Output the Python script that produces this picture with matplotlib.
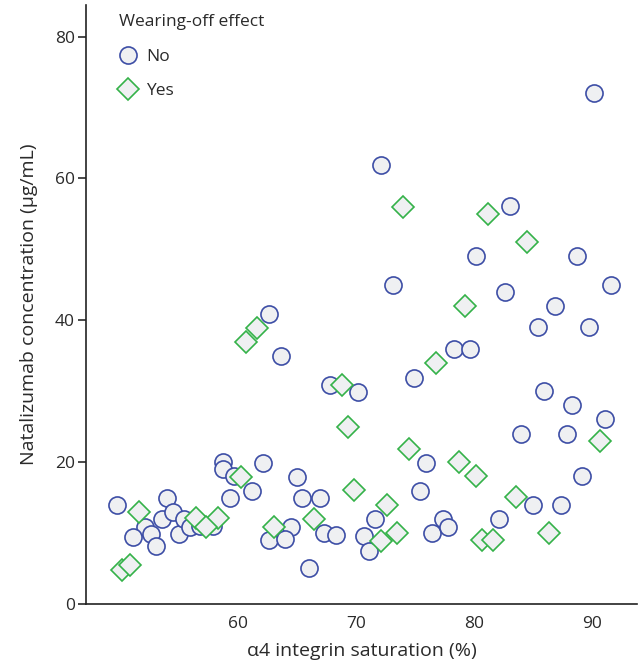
"""
	Natalizumab concentration vs alpha4 integrin saturation, grouped by wearing-off effect.
"""

import numpy as np
import matplotlib
matplotlib.use("Agg")
import matplotlib.pyplot as plt

plt.rcParams['font.family'] = ['Open Sans', 'DejaVu Sans']

# wearing-off effect: No
no_sat = [49.7, 54.0, 58.75, 58.75, 59.6, 62.1, 61.2, 59.3, 52.1, 52.6,
		  51.1, 53.05, 53.5, 54.5, 55.0, 55.4, 55.9, 56.8, 57.9, 62.6,
		  62.6, 63.6, 67.8, 70.2, 74.9, 78.3, 79.7, 65.0, 65.4, 66.9,
		  75.9, 75.4, 64.5, 64.0, 67.3, 68.3, 66.0, 70.7, 71.6, 71.1,
		  76.4, 77.4, 77.8, 72.1, 73.1,
		  90.2, 83.05, 80.2, 88.75, 91.6, 82.6, 86.9, 85.4, 89.75, 85.9,
		  88.3, 91.15, 84.0, 87.85, 89.2, 85.0, 87.35, 82.1]
no_conc = [13.9, 14.9, 20.0, 19.0, 18.0, 19.9, 15.9, 14.9, 10.9, 9.8,
		   9.4, 8.1, 11.9, 12.9, 9.9, 11.9, 10.9, 11.0, 11.0, 9.0,
		   40.9, 34.9, 30.8, 29.9, 31.9, 35.9, 35.9, 17.9, 14.9, 14.9,
		   19.9, 15.9, 10.9, 9.1, 10.0, 9.7, 5.1, 9.5, 11.9, 7.4,
		   10.0, 11.9, 10.9, 61.9, 44.9,
		   72.0, 56.1, 49.0, 49.0, 44.9, 44.0, 42.0, 39.0, 39.0, 30.0,
		   28.0, 26.0, 24.0, 24.0, 18.0, 14.0, 14.0, 12.0]

# wearing-off effect: Yes
yes_sat = [51.6, 60.2, 56.4, 58.3, 57.3, 50.1, 50.8, 63.0, 60.7, 61.6,
		   68.8, 69.3, 76.8, 74.5, 79.2, 78.75, 69.8, 66.4, 72.6, 72.1,
		   73.5, 74.0, 81.2, 84.5, 80.2, 83.55, 90.7, 80.65, 81.6, 86.35]
yes_conc = [13.0, 17.9, 12.1, 12.1, 10.9, 4.8, 5.5, 10.9, 36.9, 38.9,
			30.9, 24.9, 33.9, 21.9, 42.0, 20.0, 16.0, 11.9, 13.9, 8.8,
			10.0, 56.0, 55.0, 51.0, 18.0, 15.0, 23.0, 9.0, 9.0, 10.0]

x_ticks = [60, 70, 80, 90]
y_ticks = [0, 20, 40, 60, 80]

face = "#eff0f2"
blue = "#3d4ea6"
green = "#34b249"
text_col = "#2a2a2a"

fig = plt.figure(figsize=(6.38, 6.65), dpi=100)
ax = fig.add_axes([0.135, 0.092, 0.863, 0.9])

ax.plot(no_sat, no_conc, linestyle="none", marker="o", markersize=12.3,
		markerfacecolor=face, markeredgecolor=blue, markeredgewidth=1.2, label="No")
ax.plot(yes_sat, yes_conc, linestyle="none", marker="D", markersize=11.7,
		markerfacecolor=face, markeredgecolor=green, markeredgewidth=1.2, label="Yes")

ax.set_xlim(47.1, 93.8)
ax.set_ylim(0, 84.4)
ax.set_xticks(x_ticks)
ax.set_yticks(y_ticks)

for side in ["top", "right"]:
	ax.spines[side].set_visible(False)
for side in ["left", "bottom"]:
	ax.spines[side].set_linewidth(1.2)
	ax.spines[side].set_color("#222222")

ax.tick_params(axis="x", length=0, pad=9, labelsize=12.5, colors=text_col)
ax.tick_params(axis="y", length=6, width=1.2, pad=2, labelsize=12.5, colors=text_col)

ax.set_xlabel("α4 integrin saturation (%)", fontsize=14, color=text_col, labelpad=7)
ax.set_ylabel("Natalizumab concentration (µg/mL)", fontsize=14, color=text_col, labelpad=12)

leg = ax.legend(loc="upper left", bbox_to_anchor=(0.051, 0.992), frameon=False,
				title="Wearing-off effect", alignment="left", fontsize=12.5,
				title_fontsize=12.5, borderpad=0.25, borderaxespad=0,
				handlelength=1.1, handletextpad=0.5, labelspacing=1.05)
for t in leg.get_texts():
	t.set_color(text_col)
leg.get_title().set_color(text_col)

plt.savefig("out.png", dpi=100)
plt.close()
